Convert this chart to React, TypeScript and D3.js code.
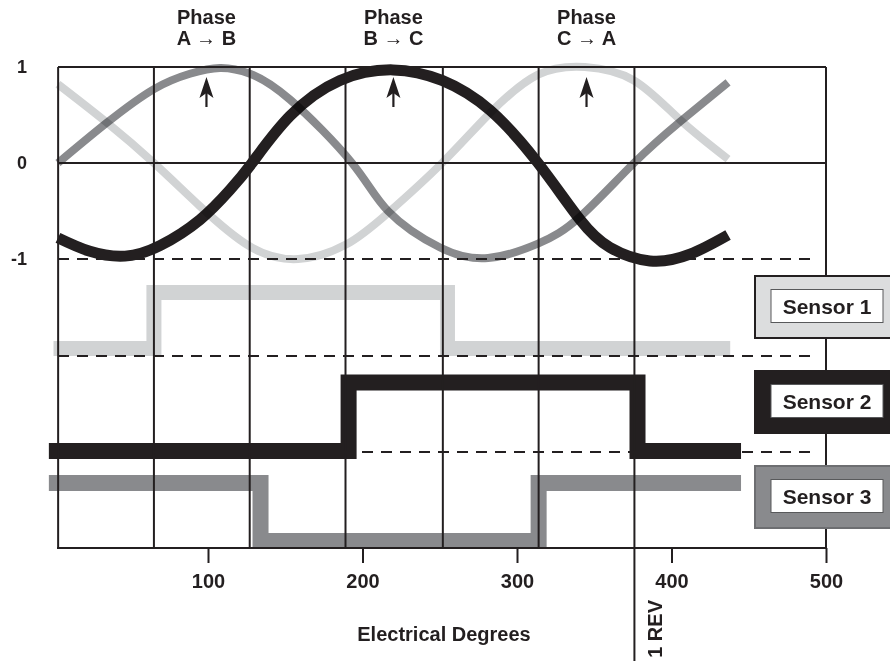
import React, { useEffect, useRef } from 'react';
import * as d3 from 'd3';

type wavePoint = { deg: number; value: number };
type stepPoint = { deg: number; level: number };

// sine waves (electrical degrees, normalised value)
const phaseA: wavePoint[] = [
    { deg: 2.9, value: 0 }, { deg: 34.6, value: 0.42 }, { deg: 65, value: 0.77 },
    { deg: 88.3, value: 0.93 }, { deg: 107.8, value: 0.99 }, { deg: 127.2, value: 0.93 },
    { deg: 153.1, value: 0.66 }, { deg: 193.2, value: 0 }, { deg: 216.5, value: -0.5 },
    { deg: 250.2, value: -0.88 }, { deg: 281.3, value: -0.99 }, { deg: 313.6, value: -0.84 },
    { deg: 340.8, value: -0.56 }, { deg: 375.7, value: 0 }, { deg: 405.5, value: 0.43 },
    { deg: 436.6, value: 0.84 },
];

const phaseB: wavePoint[] = [
    { deg: 2.9, value: -0.78 }, { deg: 23.6, value: -0.92 }, { deg: 46.3, value: -0.97 },
    { deg: 68.9, value: -0.86 }, { deg: 94.8, value: -0.59 }, { deg: 114.2, value: -0.28 },
    { deg: 128.5, value: 0 }, { deg: 153.1, value: 0.49 }, { deg: 185.4, value: 0.86 },
    { deg: 219.7, value: 0.97 }, { deg: 251.5, value: 0.86 }, { deg: 282.5, value: 0.55 },
    { deg: 313.6, value: 0 }, { deg: 340.8, value: -0.59 }, { deg: 360.2, value: -0.88 },
    { deg: 386, value: -1.02 }, { deg: 412, value: -0.95 }, { deg: 436.6, value: -0.75 },
];

const phaseC: wavePoint[] = [
    { deg: 2.9, value: 0.82 }, { deg: 34.6, value: 0.42 }, { deg: 65, value: 0 },
    { deg: 94.8, value: -0.45 }, { deg: 127.2, value: -0.87 }, { deg: 158.3, value: -1.0 },
    { deg: 189.3, value: -0.85 }, { deg: 216.5, value: -0.52 }, { deg: 251.5, value: 0 },
    { deg: 282.5, value: 0.52 }, { deg: 313.6, value: 0.92 }, { deg: 344, value: 1.0 },
    { deg: 375.7, value: 0.86 }, { deg: 405.5, value: 0.45 }, { deg: 436.6, value: 0.04 },
];

// hall sensor outputs (0 = low, 1 = high)
const sensor1: stepPoint[] = [
    { deg: 0, level: 0 }, { deg: 65, level: 1 }, { deg: 255, level: 0 }, { deg: 438, level: 0 },
];
const sensor2: stepPoint[] = [
    { deg: -3, level: 0 }, { deg: 191, level: 1 }, { deg: 378, level: 0 }, { deg: 445, level: 0 },
];
const sensor3: stepPoint[] = [
    { deg: -3, level: 1 }, { deg: 134, level: 0 }, { deg: 314, level: 1 }, { deg: 445, level: 1 },
];

const xTicks = [100, 200, 300, 400, 500];
const gridDegrees = [3, 65, 127, 189, 252, 314, 376];
const yTicks = [1, 0, -1];
const arrowDegrees = [99, 220, 345];
const phaseNames = ["A → B", "B → C", "C → A"];
const sensorNames = ["Sensor 1", "Sensor 2", "Sensor 3"];
const revDegree = 376;

const x_label = "Electrical Degrees";

const INK = "#231f20";
const DARK_GRAY = "#898a8d";
const LIGHT_GRAY = "#d1d3d4";
const FONT = "'Liberation Sans', Arial, Helvetica, sans-serif";

export default function App() {
    const svgRef = useRef<SVGSVGElement | null>(null);

    const width = 890;
    const height = 661;
    const plot = { left: 58, right: 826, top: 67, bottom: 548 };

    useEffect(() => {
        if (!svgRef.current) return;
        const svg = d3.select(svgRef.current);
        svg.selectAll("*").remove();

        const xScale = d3.scaleLinear().domain([0, 500]).range([53.5, 826]);
        const yWave = d3.scaleLinear().domain([-1, 1]).range([259, 67]);

        // each sensor gets its own low/high rows
        const sensorRows = [
            d3.scaleLinear().domain([0, 1]).range([348.5, 292.5]),
            d3.scaleLinear().domain([0, 1]).range([451, 382.5]),
            d3.scaleLinear().domain([0, 1]).range([541, 483]),
        ];

        const waveLine = d3.line<wavePoint>()
            .x(d => xScale(d.deg))
            .y(d => yWave(d.value))
            .curve(d3.curveNatural);

        // sine waves
        const waves = [
            { data: phaseC, color: LIGHT_GRAY, w: 8 },
            { data: phaseA, color: DARK_GRAY, w: 8 },
            { data: phaseB, color: INK, w: 11 },
        ];
        svg.selectAll(".wave")
            .data(waves)
            .join("path")
            .attr("class", "wave")
            .attr("d", d => waveLine(d.data))
            .style("fill", "none")
            .style("stroke", d => d.color)
            .style("stroke-width", d => d.w)
            .style("mix-blend-mode", "multiply");

        // sensor square waves
        const sensors = [
            { data: sensor1, color: LIGHT_GRAY, w: 15 },
            { data: sensor2, color: INK, w: 16 },
            { data: sensor3, color: DARK_GRAY, w: 16 },
        ];
        sensors.forEach((s, i) => {
            const step = d3.line<stepPoint>()
                .x(d => xScale(d.deg))
                .y(d => sensorRows[i](d.level))
                .curve(d3.curveStepAfter);
            svg.append("path")
                .attr("d", step(s.data))
                .style("fill", "none")
                .style("stroke", s.color)
                .style("stroke-width", s.w)
                .style("stroke-linejoin", "miter")
                .style("stroke-linecap", "butt")
                .style("mix-blend-mode", "multiply");
        });

        // grid
        const grid = svg.append("g").style("stroke", INK).style("stroke-width", 2);
        gridDegrees.forEach(d => {
            const isRev = d === revDegree;
            grid.append("line")
                .attr("x1", xScale(d)).attr("x2", xScale(d))
                .attr("y1", plot.top).attr("y2", isRev ? height : plot.bottom);
        });
        grid.append("line")
            .attr("x1", plot.right).attr("x2", plot.right)
            .attr("y1", plot.top).attr("y2", plot.bottom);
        [1, 0].forEach(v => {
            grid.append("line")
                .attr("x1", plot.left).attr("x2", plot.right)
                .attr("y1", yWave(v)).attr("y2", yWave(v));
        });

        // dashed reference levels
        const dashY = [yWave(-1), sensorRows[0](0) + 7.5, sensorRows[1](0) + 1];
        svg.selectAll(".dash")
            .data(dashY)
            .join("line")
            .attr("class", "dash")
            .attr("x1", plot.left).attr("x2", 816)
            .attr("y1", d => d).attr("y2", d => d)
            .style("stroke", INK)
            .style("stroke-width", 2.2)
            .style("stroke-dasharray", "11,8");

        // x axis
        const xAxis = d3.axisBottom(xScale)
            .tickValues(xTicks)
            .tickSize(15)
            .tickSizeOuter(0)
            .tickPadding(11)
            .tickFormat(d3.format("d"));
        const axisG = svg.append("g")
            .attr("transform", `translate(0, ${plot.bottom})`)
            .call(xAxis);
        axisG.select(".domain").remove();
        axisG.selectAll("line").style("stroke", INK).style("stroke-width", 2);
        axisG.selectAll("text")
            .style("font-family", FONT)
            .style("font-size", "20px")
            .style("font-weight", "bold")
            .style("fill", INK);
        svg.append("line")
            .attr("x1", plot.left - 1).attr("x2", plot.right + 1)
            .attr("y1", plot.bottom).attr("y2", plot.bottom)
            .style("stroke", INK).style("stroke-width", 2);

        // y labels
        svg.selectAll(".ylab")
            .data(yTicks)
            .join("text")
            .attr("class", "ylab")
            .attr("x", 27)
            .attr("y", d => yWave(d) + 6)
            .style("text-anchor", "end")
            .style("font-family", FONT)
            .style("font-size", "18px")
            .style("font-weight", "bold")
            .style("fill", INK)
            .text(d => String(d));

        // phase labels and arrows
        arrowDegrees.forEach((d, i) => {
            const ax = xScale(d);
            const t = svg.append("text")
                .attr("x", ax)
                .style("text-anchor", "middle")
                .style("font-family", FONT)
                .style("font-size", "20px")
                .style("font-weight", "bold")
                .style("fill", INK);
            t.append("tspan").attr("x", ax).attr("y", 24).text("Phase");
            t.append("tspan").attr("x", ax).attr("y", 45).text(phaseNames[i]);

            svg.append("line")
                .attr("x1", ax).attr("x2", ax)
                .attr("y1", 90).attr("y2", 107)
                .style("stroke", INK).style("stroke-width", 2.2);
            svg.append("path")
                .attr("d", `M${ax},77 L${ax + 7},98 L${ax},93 L${ax - 7},98 Z`)
                .style("fill", INK);
        });

        // axis title
        svg.append("text")
            .attr("x", 444)
            .attr("y", 641)
            .style("text-anchor", "middle")
            .style("font-family", FONT)
            .style("font-size", "20px")
            .style("font-weight", "bold")
            .style("fill", INK)
            .text(x_label);

        // 1 REV marker
        svg.append("text")
            .attr("transform", `translate(${xScale(revDegree) + 28}, 600) rotate(-90)`)
            .style("text-anchor", "end")
            .style("font-family", FONT)
            .style("font-size", "20px")
            .style("font-weight", "bold")
            .style("fill", INK)
            .text("1 REV");

        // legend
        const legendTops = [276, 371, 466];
        const legendFill = ["#dcddde", INK, DARK_GRAY];
        const legendStroke = [INK, INK, "#6d6e71"];
        sensorNames.forEach((name, i) => {
            const y0 = legendTops[i];
            svg.append("rect")
                .attr("x", 755).attr("y", y0)
                .attr("width", 150).attr("height", 62)
                .style("fill", legendFill[i])
                .style("stroke", legendStroke[i])
                .style("stroke-width", 2);
            svg.append("rect")
                .attr("x", 771).attr("y", y0 + 13.5)
                .attr("width", 112).attr("height", 33)
                .style("fill", "#fff")
                .style("stroke", "#58595b")
                .style("stroke-width", 1);
            svg.append("text")
                .attr("x", 827)
                .attr("y", y0 + 38)
                .style("text-anchor", "middle")
                .style("font-family", FONT)
                .style("font-size", "21px")
                .style("font-weight", "bold")
                .style("fill", INK)
                .text(name);
        });
    }, []);

    return (
        <svg
            ref={svgRef}
            width={width}
            height={height}
            style={{ position: "absolute", left: 0, top: 0, background: "#fff", display: "block" }}
        ></svg>
    );
}
